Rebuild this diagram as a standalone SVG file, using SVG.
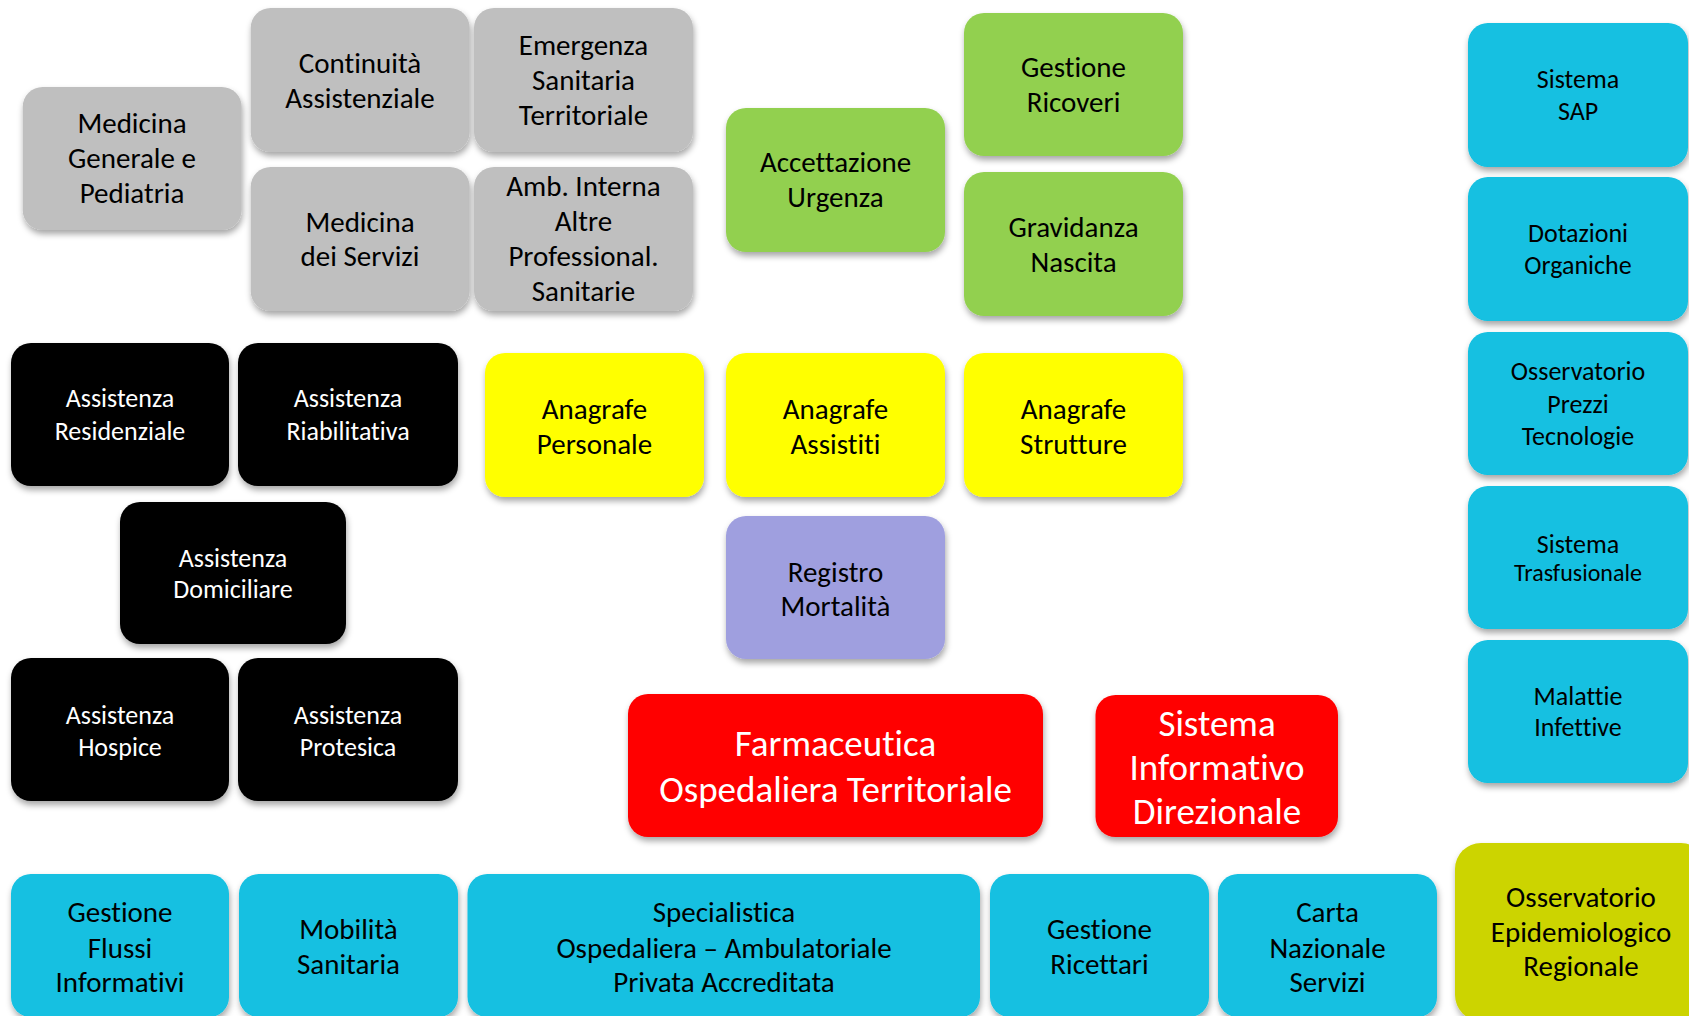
<svg xmlns="http://www.w3.org/2000/svg" width="1689" height="1016" viewBox="0 0 1689 1016">
<style>
text{font-family:Carlito,Calibri,Lato,"Liberation Sans",sans-serif;text-anchor:middle;fill:#000;font-variant-ligatures:none;font-feature-settings:"liga" 0}
.f29{font-size:29px}
.f26{font-size:26px}
.f24{font-size:24px}
.f37{font-size:37px}
.w{fill:#fff}
.box{filter:url(#sh)}
.grey{fill:#BFBFBF}
.green{fill:#92D050}
.cyan{fill:#12C0E1}
.black{fill:#000}
.yellow{fill:#FFFF00}
.lav{fill:#9F9FDF}
.red{fill:#FF0000}
.olive{fill:#CCD400}
</style>
<defs>
<filter id="sh" x="-10%" y="-10%" width="125%" height="130%">
<feDropShadow dx="1" dy="4" stdDeviation="3" flood-color="#000" flood-opacity="0.35"/>
</filter>
</defs>
<rect width="1689" height="1016" fill="#fff"/>
<g id="connectors"/>

<g id="medicina-generale">
<rect class="box grey" x="22.7" y="87" width="219" height="143" rx="20"/>
<text class="f29"><tspan x="132" y="133">Medicina</tspan><tspan x="132" y="168">Generale e</tspan><tspan x="132" y="203">Pediatria</tspan></text>
</g>
<g id="continuita">
<rect class="box grey" x="250.7" y="8" width="219" height="144" rx="20"/>
<text class="f29"><tspan x="360" y="72.5">Continuità</tspan><tspan x="360" y="107.5">Assistenziale</tspan></text>
</g>
<g id="emergenza">
<rect class="box grey" x="474" y="8" width="219" height="144" rx="20"/>
<text class="f29"><tspan x="583.5" y="55">Emergenza</tspan><tspan x="583.5" y="90">Sanitaria</tspan><tspan x="583.5" y="125">Territoriale</tspan></text>
</g>
<g id="medicina-servizi">
<rect class="box grey" x="250.7" y="167" width="219" height="144" rx="20"/>
<text class="f29"><tspan x="360" y="231.5">Medicina</tspan><tspan x="360" y="266">dei Servizi</tspan></text>
</g>
<g id="amb-interna">
<rect class="box grey" x="474" y="167" width="219" height="144" rx="20"/>
<text class="f29"><tspan x="583.5" y="196">Amb. Interna</tspan><tspan x="583.5" y="231">Altre</tspan><tspan x="583.5" y="266">Professional.</tspan><tspan x="583.5" y="301">Sanitarie</tspan></text>
</g>

<g id="accettazione-urgenza">
<rect class="box green" x="726" y="108" width="219" height="144" rx="20"/>
<text class="f29"><tspan x="835.5" y="172">Accettazione</tspan><tspan x="835.5" y="206.5">Urgenza</tspan></text>
</g>
<g id="gestione-ricoveri">
<rect class="box green" x="964" y="13" width="219" height="143" rx="20"/>
<text class="f29"><tspan x="1073.5" y="77">Gestione</tspan><tspan x="1073.5" y="112">Ricoveri</tspan></text>
</g>
<g id="gravidanza-nascita">
<rect class="box green" x="964" y="172" width="219" height="144" rx="20"/>
<text class="f29"><tspan x="1073.5" y="237">Gravidanza</tspan><tspan x="1073.5" y="272">Nascita</tspan></text>
</g>

<g id="sistema-sap">
<rect class="box cyan" x="1468" y="23" width="220" height="144" rx="20"/>
<text class="f26"><tspan x="1578" y="88">Sistema</tspan><tspan x="1578" y="119.5">SAP</tspan></text>
</g>
<g id="dotazioni-organiche">
<rect class="box cyan" x="1468" y="177" width="220" height="144" rx="20"/>
<text class="f26"><tspan x="1578" y="242">Dotazioni</tspan><tspan x="1578" y="274">Organiche</tspan></text>
</g>
<g id="osservatorio-prezzi">
<rect class="box cyan" x="1468" y="332" width="220" height="143" rx="20"/>
<text class="f26"><tspan x="1578" y="380">Osservatorio</tspan><tspan x="1578" y="412.5">Prezzi</tspan><tspan x="1578" y="444.5">Tecnologie</tspan></text>
</g>
<g id="sistema-trasfusionale">
<rect class="box cyan" x="1468" y="486" width="220" height="143" rx="20"/>
<text><tspan class="f26" x="1578" y="552.5">Sistema</tspan><tspan class="f24" x="1578" y="581">Trasfusionale</tspan></text>
</g>
<g id="malattie-infettive">
<rect class="box cyan" x="1468" y="640" width="220" height="143" rx="20"/>
<text class="f26"><tspan x="1578" y="704.5">Malattie</tspan><tspan x="1578" y="735.5">Infettive</tspan></text>
</g>

<g id="assistenza-residenziale">
<rect class="box black" x="11" y="343" width="218" height="143" rx="20"/>
<text class="f26 w"><tspan x="120" y="407">Assistenza</tspan><tspan x="120" y="439.5">Residenziale</tspan></text>
</g>
<g id="assistenza-riabilitativa">
<rect class="box black" x="238" y="343" width="220" height="143" rx="20"/>
<text class="f26 w"><tspan x="348" y="407">Assistenza</tspan><tspan x="348" y="439.5">Riabilitativa</tspan></text>
</g>
<g id="assistenza-domiciliare">
<rect class="box black" x="120" y="502" width="226" height="142" rx="20"/>
<text class="f26 w"><tspan x="233" y="566.5">Assistenza</tspan><tspan x="233" y="597.5">Domiciliare</tspan></text>
</g>
<g id="assistenza-hospice">
<rect class="box black" x="11" y="658" width="218" height="143" rx="20"/>
<text class="f26 w"><tspan x="120" y="723.5">Assistenza</tspan><tspan x="120" y="756">Hospice</tspan></text>
</g>
<g id="assistenza-protesica">
<rect class="box black" x="238" y="658" width="220" height="143" rx="20"/>
<text class="f26 w"><tspan x="348" y="723.5">Assistenza</tspan><tspan x="348" y="756">Protesica</tspan></text>
</g>

<g id="anagrafe-personale">
<rect class="box yellow" x="485" y="353" width="219" height="144" rx="20"/>
<text class="f29"><tspan x="594.5" y="418.5">Anagrafe</tspan><tspan x="594.5" y="453.5">Personale</tspan></text>
</g>
<g id="anagrafe-assistiti">
<rect class="box yellow" x="726" y="353" width="219" height="144" rx="20"/>
<text class="f29"><tspan x="835.5" y="418.5">Anagrafe</tspan><tspan x="835.5" y="453.5">Assistiti</tspan></text>
</g>
<g id="anagrafe-strutture">
<rect class="box yellow" x="964" y="353" width="219" height="144" rx="20"/>
<text class="f29"><tspan x="1073.5" y="418.5">Anagrafe</tspan><tspan x="1073.5" y="453.5">Strutture</tspan></text>
</g>
<g id="registro-mortalita">
<rect class="box lav" x="726" y="516" width="219" height="143" rx="20"/>
<text class="f29"><tspan x="835.5" y="581.5">Registro</tspan><tspan x="835.5" y="616">Mortalità</tspan></text>
</g>

<g id="farmaceutica">
<rect class="box red" x="628" y="694" width="415" height="143" rx="20"/>
<text class="f37 w"><tspan x="835.5" y="756">Farmaceutica</tspan><tspan x="835.5" y="801.5">Ospedaliera Territoriale</tspan></text>
</g>
<g id="sistema-informativo-direzionale">
<rect class="box red" x="1095.5" y="695" width="242.5" height="142" rx="20"/>
<text class="f37 w"><tspan x="1217" y="736">Sistema</tspan><tspan x="1217" y="780">Informativo</tspan><tspan x="1217" y="824">Direzionale</tspan></text>
</g>

<g id="gestione-flussi">
<rect class="box cyan" x="11" y="874" width="218" height="143" rx="20"/>
<text class="f29"><tspan x="120" y="922">Gestione</tspan><tspan x="120" y="957.5">Flussi</tspan><tspan x="120" y="992">Informativi</tspan></text>
</g>
<g id="mobilita-sanitaria">
<rect class="box cyan" x="239" y="874" width="219" height="143" rx="20"/>
<text class="f29"><tspan x="348.5" y="939">Mobilità</tspan><tspan x="348.5" y="973.5">Sanitaria</tspan></text>
</g>
<g id="specialistica">
<rect class="box cyan" x="467.5" y="874" width="512.5" height="143" rx="20"/>
<text class="f29"><tspan x="724" y="922">Specialistica</tspan><tspan x="724" y="957.5">Ospedaliera – Ambulatoriale</tspan><tspan x="724" y="992">Privata Accreditata</tspan></text>
</g>
<g id="gestione-ricettari">
<rect class="box cyan" x="990" y="874" width="219" height="143" rx="20"/>
<text class="f29"><tspan x="1099.5" y="939">Gestione</tspan><tspan x="1099.5" y="973.5">Ricettari</tspan></text>
</g>
<g id="carta-nazionale-servizi">
<rect class="box cyan" x="1218" y="874" width="219" height="143" rx="20"/>
<text class="f29"><tspan x="1327.5" y="922">Carta</tspan><tspan x="1327.5" y="957.5">Nazionale</tspan><tspan x="1327.5" y="992">Servizi</tspan></text>
</g>
<g id="osservatorio-epidemiologico">
<rect class="box olive" x="1455" y="843" width="252" height="178" rx="26"/>
<text class="f29"><tspan x="1581" y="907">Osservatorio</tspan><tspan x="1581" y="941.5">Epidemiologico</tspan><tspan x="1581" y="976">Regionale</tspan></text>
</g>
</svg>
